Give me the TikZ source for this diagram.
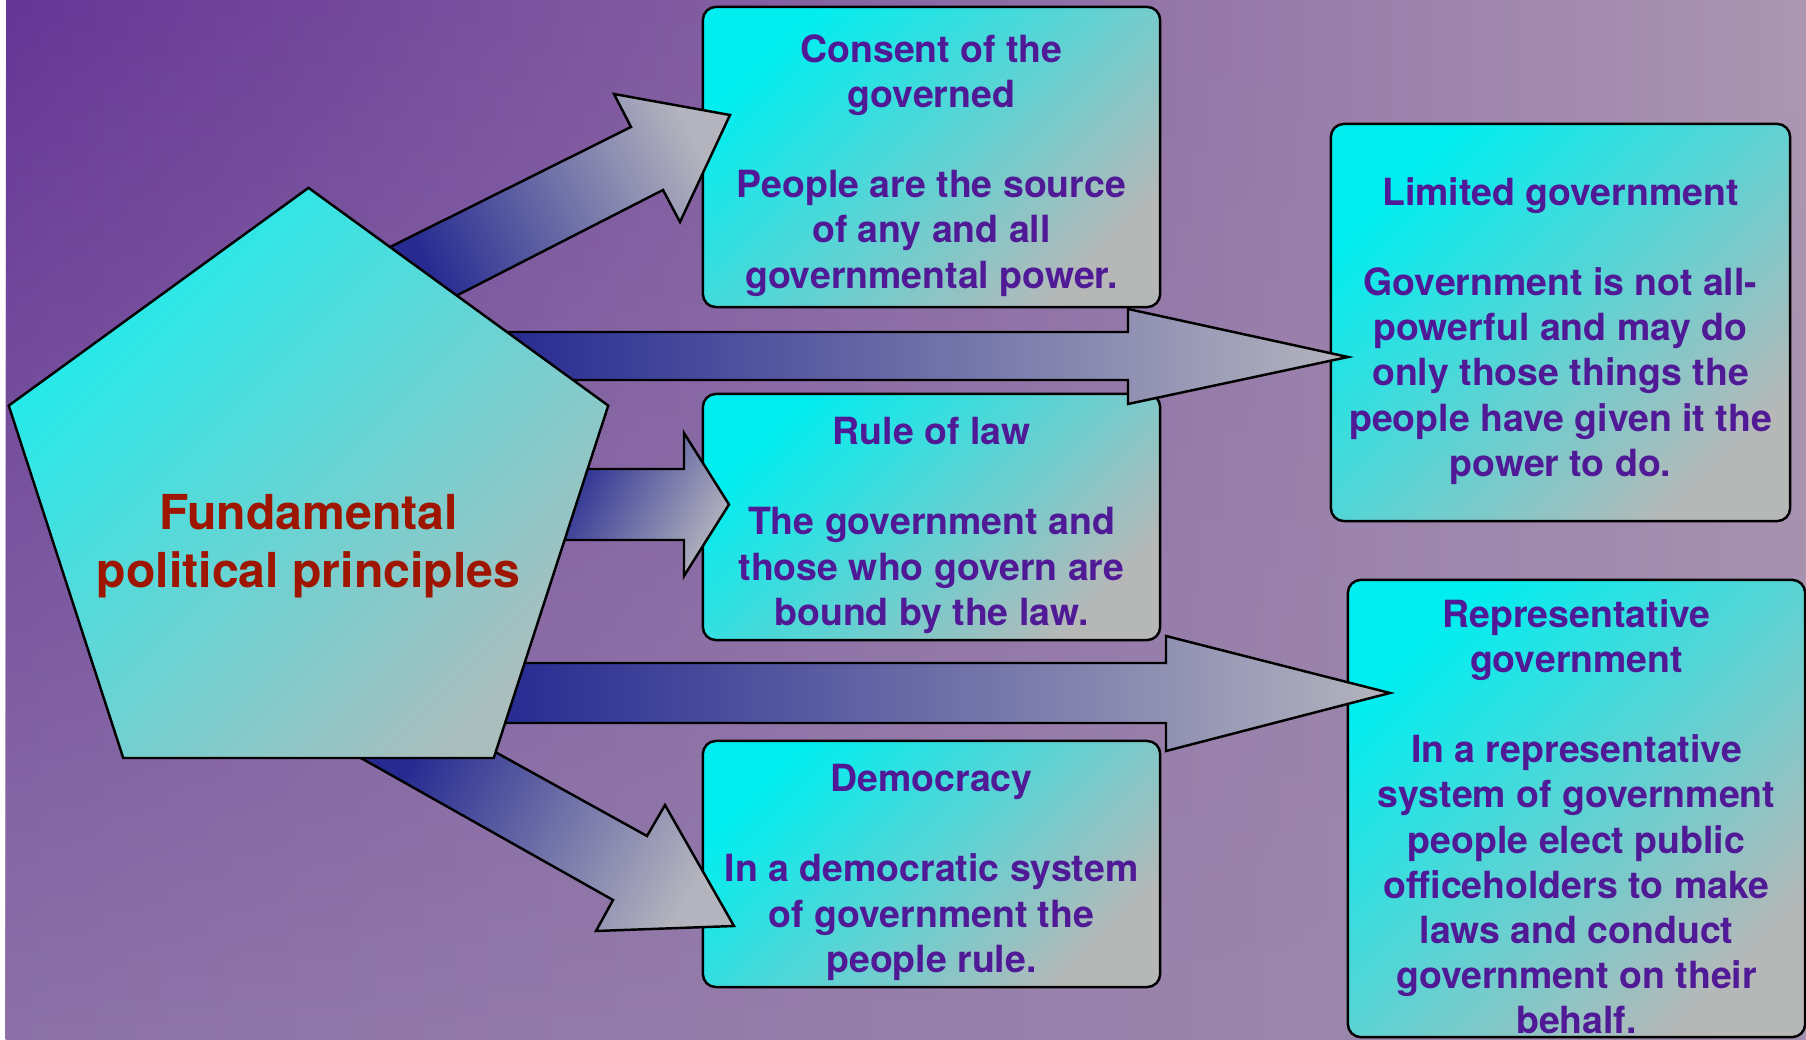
\documentclass[tikz,border=0pt]{standalone}
\usepackage{fontspec}
\setmainfont{TeX Gyre Heros}
\usepackage{tikz}
\usetikzlibrary{shapes.geometric}
\usetikzlibrary{fadings}

\definecolor{bgTL}{RGB}{102,54,150}
\definecolor{bgTR}{RGB}{172,152,178}
\definecolor{bgBL}{RGB}{140,114,168}
\definecolor{bgBR}{RGB}{162,142,174}
\definecolor{boxCyan}{RGB}{0,238,240}
\definecolor{boxGrey}{RGB}{182,184,184}
\definecolor{hubCyan}{RGB}{30,236,236}
\definecolor{hubGrey}{RGB}{170,190,190}
\definecolor{flowNavy}{RGB}{38,42,145}
\definecolor{flowGrey}{RGB}{180,180,190}
\definecolor{inkPurple}{RGB}{80,25,150}
\definecolor{inkRed}{RGB}{158,22,0}

\begin{document}
\begin{tikzpicture}[x=0.01cm, y=-0.01cm, line join=miter]

    \tikzstyle{topic} = [rectangle, rounded corners=3.7pt, draw=black, line width=0.7pt,
        left color=boxCyan, right color=boxGrey, shading angle=45, inner sep=0pt]
    \tikzstyle{topictext} = [align=center, text=inkPurple, inner sep=0pt,
        font=\fontsize{10.65}{12.85}\selectfont\bfseries, yshift=-2.35pt]
    \tikzstyle{hub} = [regular polygon, regular polygon sides=5, minimum size=6.3cm, inner sep=0pt,
        draw=black, line width=0.7pt, left color=hubCyan, right color=hubGrey, shading angle=45]
    \tikzstyle{hubtext} = [align=center, text=inkRed, inner sep=0pt,
        font=\fontsize{13.7}{16.4}\selectfont\bfseries]
    \tikzstyle{flow} = [draw=black, line width=0.7pt, left color=flowNavy, right color=flowGrey]

    \useasboundingbox (0,0) rectangle (1806,1040);
    \fill[white] (0,0) rectangle (1806,1040);
    \shade[left color=bgTL, right color=bgTR] (6,0) rectangle (1806,1040);
    \shade[left color=bgBL, right color=bgBR, path fading=north] (6,0) rectangle (1806,1040);

    \node[topic, minimum width=4.57cm, minimum height=3.00cm] (consent) at (931.5,157) {};
    \node[topic, minimum width=4.57cm, minimum height=2.46cm] (rule) at (931.5,517) {};
    \node[topic, minimum width=4.57cm, minimum height=2.46cm] (democracy) at (931.5,864) {};
    \node[topic, minimum width=4.59cm, minimum height=3.97cm] (limited) at (1560.5,322.5) {};
    \node[topic, minimum width=4.57cm, minimum height=4.57cm] (representative) at (1576.5,808.5) {};

    \node[topictext] (consent_txt) at (consent) {Consent of the\\governed\\[12.85pt]People are the source\\of any and all\\governmental power.};
    \node[topictext] (rule_txt) at (rule) {Rule of law\\[12.85pt]The government and\\those who govern are\\bound by the law.};
    \node[topictext] (democracy_txt) at (democracy) {Democracy\\[12.85pt]In a democratic system\\of government the\\people rule.};
    \node[topictext] (limited_txt) at (limited) {Limited government\\[12.85pt]Government is not all-\\powerful and may do\\only those things the\\people have given it the\\power to do.};
    \node[topictext] (representative_txt) at (representative) {Representative\\government\\[12.85pt]In a representative\\system of government\\people elect public\\officeholders to make\\laws and conduct\\government on their\\behalf.};

    \path[flow, shading angle=116.5] (383,250.5) -- (631,127) -- (614,94) -- (730,115) -- (680,222) -- (663,190) -- (449,299.5) -- cycle;
    \path[flow] (499,332) -- (1128,332) -- (1128,309) -- (1348,357) -- (1128,404) -- (1128,380) -- (565,380) -- cycle;
    \path[flow, shading angle=60] (580,469) -- (684,469) -- (684,433) -- (729,504.5) -- (684,576) -- (684,540) -- (557,540) -- cycle;
    \path[flow] (517,663) -- (1166,663) -- (1166,636) -- (1390,693) -- (1166,751) -- (1166,723) -- (497,723) -- cycle;
    \path[flow, shading angle=61] (488,748) -- (647,836) -- (665,805) -- (734,926) -- (596,931) -- (613,900) -- (352,753) -- cycle;

    \node[hub] (core) at (308.5,503) {};
    \node[hubtext] (core_txt) at (308.5,546.3) {Fundamental\\political principles};

\end{tikzpicture}
\end{document}
